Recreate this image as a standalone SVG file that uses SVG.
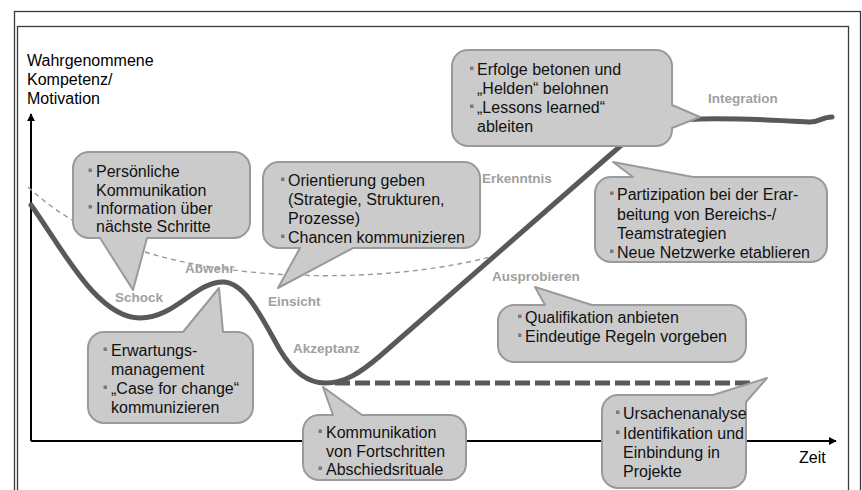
<svg xmlns="http://www.w3.org/2000/svg" width="862" height="490" viewBox="0 0 862 490">
<defs>
<marker id="ah" viewBox="0 0 10 10" refX="9" refY="5" markerWidth="4" markerHeight="4" orient="auto" markerUnits="strokeWidth">
<path d="M0,0 L10,5 L0,10 Z" fill="#000"/>
</marker>
</defs>
<style>
.frame{fill:none;stroke:#3a3a3a;stroke-width:1.3}
.axis{fill:none;stroke:#000;stroke-width:2}
.curve{fill:none;stroke:#595959;stroke-width:5;stroke-linecap:round;stroke-linejoin:round}
.thin{fill:none;stroke:#9a9a9a;stroke-width:1.4;stroke-dasharray:5 4}
.thick{fill:none;stroke:#595959;stroke-width:5;stroke-dasharray:15 5}
.bub{fill:#cbcbcb;stroke:#9a9a9a;stroke-width:2;stroke-linejoin:round}
.t{font-family:"Liberation Sans",Arial,sans-serif;font-size:16px;fill:#111}
.b{fill:#7a7a7a}
.ph{font-family:"Liberation Sans",Arial,sans-serif;font-size:13.5px;font-weight:bold;fill:#a0a0a0}
.ax{font-family:"Liberation Sans",Arial,sans-serif;font-size:16px;fill:#000}
</style>
<rect width="862" height="490" fill="#fff"/>
<g id="frame">
<rect class="frame" x="14.5" y="11.5" width="846" height="490"/>
<rect class="frame" x="17.5" y="26.5" width="831" height="480"/>
</g>
<g id="axes">
<line class="axis" x1="31" y1="441" x2="31" y2="114" marker-end="url(#ah)"/>
<line class="axis" x1="31" y1="441" x2="836" y2="441" marker-end="url(#ah)"/>
<text class="ax" x="27" y="66">Wahrgenommene</text>
<text class="ax" x="27" y="85">Kompetenz/</text>
<text class="ax" x="27" y="104">Motivation</text>
<text class="ax" x="799" y="463">Zeit</text>
</g>
<g id="connectors">
<path class="thin" d="M28,187 C80,235 150,262 250,272 C330,280 420,275 490,257"/>
<path class="curve" d="M31,205 C62,248 97,318 140,318 C175,318 195,282 223,282 C245,282 262,318 280,350 C295,375 310,383 325,383 C345,383 360,373 380,356 L610,155 C640,128 660,120 700,119 C740,118 790,121 808,122 C818,123 822,117 832,117"/>
<path class="thick" d="M335,383 H754"/>
</g>
<g id="labels">
<text class="ph" x="115" y="302">Schock</text>
<text class="ph" x="185" y="273">Abwehr</text>
<text class="ph" x="268" y="306">Einsicht</text>
<text class="ph" x="293" y="353">Akzeptanz</text>
<text class="ph" x="492" y="281">Ausprobieren</text>
<text class="ph" x="482" y="183">Erkenntnis</text>
<text class="ph" x="708" y="103">Integration</text>
</g>
<g id="bubble-schock">
<path class="bub" d="M89,152 H234 A16,16 0 0 1 250,168 V222 A16,16 0 0 1 234,238 H147 L133,290 L100,238 H89 A16,16 0 0 1 73,222 V168 A16,16 0 0 1 89,152 Z"/>
<rect class="b" x="88.5" y="168.5" width="3.5" height="3.5"/>
<rect class="b" x="88.5" y="205" width="3.5" height="3.5"/>
<text class="t" x="96" y="177">Persönliche</text>
<text class="t" x="96" y="195.5">Kommunikation</text>
<text class="t" x="96" y="214">Information über</text>
<text class="t" x="96" y="232">nächste Schritte</text>
</g>
<g id="bubble-einsicht">
<path class="bub" d="M279,162 H464 A16,16 0 0 1 480,178 V232 A16,16 0 0 1 464,248 H353 L278,288 L300,248 H279 A16,16 0 0 1 263,232 V178 A16,16 0 0 1 279,162 Z"/>
<rect class="b" x="281" y="177.5" width="3.5" height="3.5"/>
<rect class="b" x="281" y="234.5" width="3.5" height="3.5"/>
<text class="t" x="288" y="186">Orientierung geben</text>
<text class="t" x="288" y="205">(Strategie, Strukturen,</text>
<text class="t" x="288" y="224">Prozesse)</text>
<text class="t" x="288" y="243">Chancen kommunizieren</text>
</g>
<g id="bubble-integration">
<path class="bub" d="M468,50 H656 A16,16 0 0 1 672,66 V105 L700,117 L672,128 V130 A16,16 0 0 1 656,146 H468 A16,16 0 0 1 452,130 V66 A16,16 0 0 1 468,50 Z"/>
<rect class="b" x="470" y="66.5" width="3.5" height="3.5"/>
<rect class="b" x="470" y="104.5" width="3.5" height="3.5"/>
<text class="t" x="477" y="75">Erfolge betonen und</text>
<text class="t" x="477" y="94">„Helden“ belohnen</text>
<text class="t" x="477" y="113">„Lessons learned“</text>
<text class="t" x="477" y="132">ableiten</text>
</g>
<g id="bubble-erkenntnis">
<path class="bub" d="M611,177 H633 L613,162 L693,177 H811 A16,16 0 0 1 827,193 V246 A16,16 0 0 1 811,262 H611 A16,16 0 0 1 595,246 V193 A16,16 0 0 1 611,177 Z"/>
<rect class="b" x="610" y="191.5" width="3.5" height="3.5"/>
<rect class="b" x="610" y="249.5" width="3.5" height="3.5"/>
<text class="t" x="617" y="200">Partizipation bei der Erar-</text>
<text class="t" x="617" y="220">beitung von Bereichs-/</text>
<text class="t" x="617" y="239">Teamstrategien</text>
<text class="t" x="617" y="258">Neue Netzwerke etablieren</text>
</g>
<g id="bubble-abwehr">
<path class="bub" d="M104,332 H183 L219,288 L223,332 H237 A16,16 0 0 1 253,348 V407 A16,16 0 0 1 237,423 H104 A16,16 0 0 1 88,407 V348 A16,16 0 0 1 104,332 Z"/>
<rect class="b" x="103.5" y="347.5" width="3.5" height="3.5"/>
<rect class="b" x="103.5" y="385.5" width="3.5" height="3.5"/>
<text class="t" x="111" y="356">Erwartungs-</text>
<text class="t" x="111" y="375">management</text>
<text class="t" x="111" y="394">„Case for change“</text>
<text class="t" x="111" y="413">kommunizieren</text>
</g>
<g id="bubble-akzeptanz">
<path class="bub" d="M319,415 H333 L323,387 L362,415 H450 A16,16 0 0 1 466,431 V464 A16,16 0 0 1 450,480 H319 A16,16 0 0 1 303,464 V431 A16,16 0 0 1 319,415 Z"/>
<rect class="b" x="318.5" y="429.5" width="3.5" height="3.5"/>
<rect class="b" x="318.5" y="466.5" width="3.5" height="3.5"/>
<text class="t" x="326" y="438">Kommunikation</text>
<text class="t" x="326" y="457">von Fortschritten</text>
<text class="t" x="326" y="475">Abschiedsrituale</text>
</g>
<g id="bubble-ausprobieren">
<path class="bub" d="M514,305 H545 L535,287 L592,305 H730 A16,16 0 0 1 746,321 V346 A16,16 0 0 1 730,362 H514 A16,16 0 0 1 498,346 V321 A16,16 0 0 1 514,305 Z"/>
<rect class="b" x="518" y="314.5" width="3.5" height="3.5"/>
<rect class="b" x="518" y="333.5" width="3.5" height="3.5"/>
<text class="t" x="525" y="323">Qualifikation anbieten</text>
<text class="t" x="525" y="342">Eindeutige Regeln vorgeben</text>
</g>
<g id="bubble-ursachen">
<path class="bub" d="M618,395 H713 L767,378 L746,402 V472 A16,16 0 0 1 730,488 H618 A16,16 0 0 1 602,472 V411 A16,16 0 0 1 618,395 Z"/>
<rect class="b" x="616" y="410.5" width="3.5" height="3.5"/>
<rect class="b" x="616" y="430.5" width="3.5" height="3.5"/>
<text class="t" x="623" y="419">Ursachenanalyse</text>
<text class="t" x="623" y="439">Identifikation und</text>
<text class="t" x="623" y="458">Einbindung in</text>
<text class="t" x="623" y="477">Projekte</text>
</g>
</svg>
